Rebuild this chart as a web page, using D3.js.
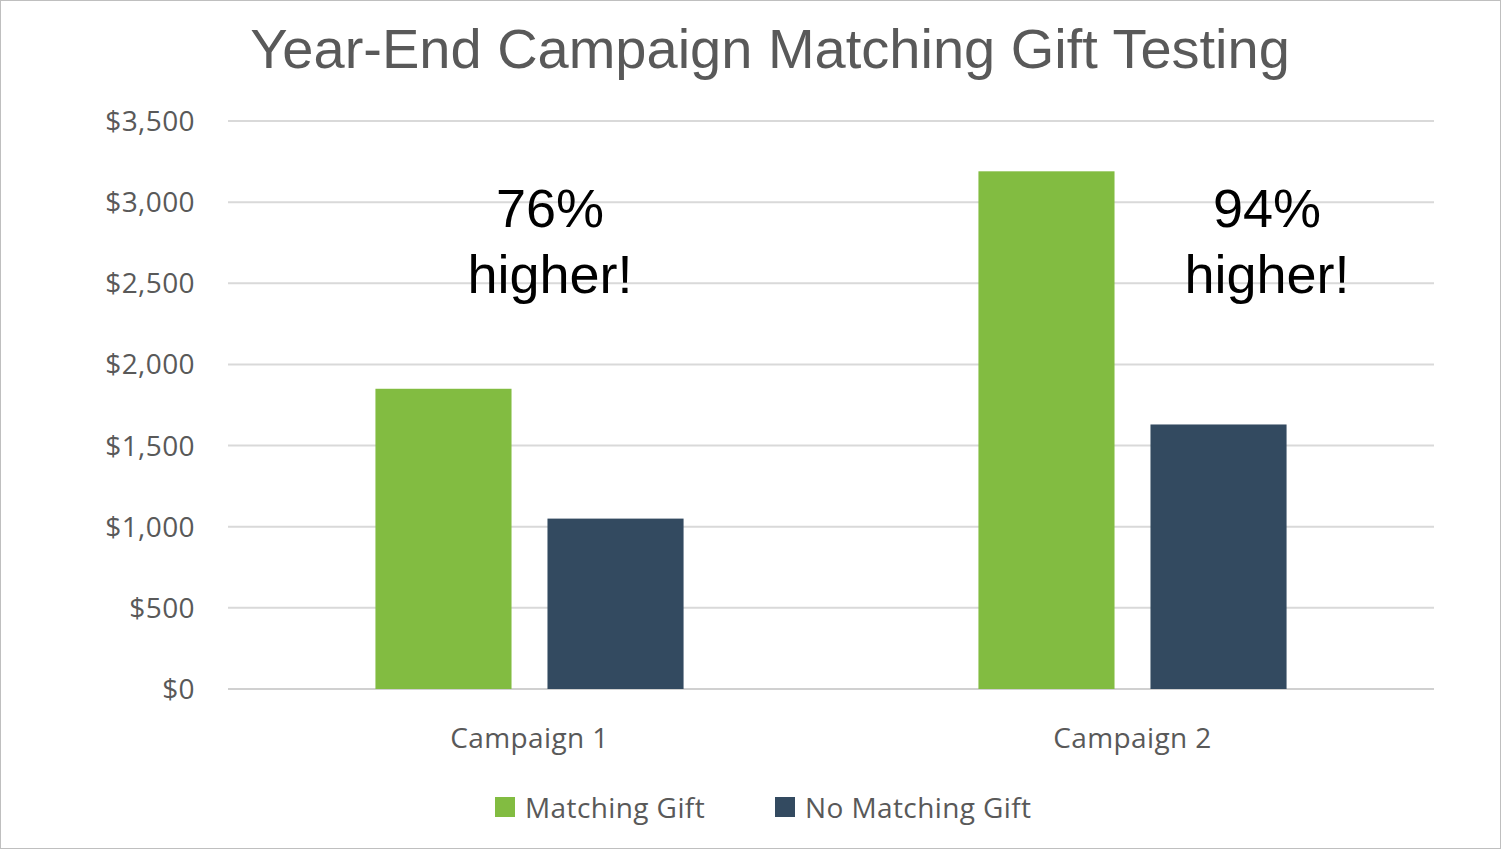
<!DOCTYPE html>
<html><head><meta charset="utf-8">
<script src="https://cdn.jsdelivr.net/npm/d3@7"></script>
<style>body{margin:0;background:#fff}</style></head>
<body><svg id="c" width="1501" height="849"></svg>
<script>
const categories = ["Campaign 1", "Campaign 2"];
const series = ["Matching Gift", "No Matching Gift"];
const matching = [1850, 3190];
const noMatching = [1050, 1630];
const annotations = [["76%", "higher!"], ["94%", "higher!"]];
const yTicks = [0, 500, 1000, 1500, 2000, 2500, 3000, 3500];
const colors = ["#82bc41", "#334a60"];

const svg = d3.select("#c");
svg.append("rect").attr("x",0.5).attr("y",0.5).attr("width",1500).attr("height",848)
  .attr("fill","#fff").attr("stroke","#bfbfbf");
const x = d3.scaleBand().domain(categories).range([228,1434]);
const xs = d3.scaleBand().domain(series).range([0,x.bandwidth()]).paddingInner(0.209).paddingOuter(0.857);
const y = d3.scaleLinear().domain([0,3500]).range([689,121]);
const lab = {"font-family":"Open Sans","font-size":28,"fill":"#595959","letter-spacing":0.4};
const ap=(s,o)=>{for(const k in o)s.attr(k,o[k]);return s;};

svg.append("text").attr("x",770).attr("y",68).attr("text-anchor","middle")
  .attr("font-family","Liberation Sans, Arial").attr("font-size",56).attr("fill","#595959")
  .text("Year-End Campaign Matching Gift Testing");

const g = svg.append("g");
yTicks.forEach(t=>{
  g.append("line").attr("x1",228).attr("x2",1434).attr("y1",y(t)).attr("y2",y(t))
   .attr("stroke",t===0?"#d0d0d0":"#d9d9d9").attr("stroke-width",2);
  ap(g.append("text"),lab).attr("x",195).attr("y",y(t)+10).attr("text-anchor","end")
   .text("$"+d3.format(",")(t));
});
const vals=[matching,noMatching];
categories.forEach((c,i)=>{
  series.forEach((s,j)=>{
    svg.append("rect").attr("x",x(c)+xs(s)).attr("width",xs.bandwidth())
      .attr("y",y(vals[j][i])).attr("height",y(0)-y(vals[j][i])).attr("fill",colors[j]);
  });
  ap(svg.append("text"),lab).attr("x",x(c)+x.bandwidth()/2).attr("y",748).attr("text-anchor","middle").text(c);
});
const annX=[550,1267];
annotations.forEach((a,i)=>{
  a.forEach((l,k)=>svg.append("text").attr("x",annX[i]).attr("y",227+k*66).attr("text-anchor","middle")
    .attr("font-family","Liberation Sans, Arial").attr("font-size",54).attr("fill","#000").text(l));
});
const lx=[495,775];
series.forEach((s,j)=>{
  svg.append("rect").attr("x",lx[j]).attr("y",797).attr("width",20).attr("height",20).attr("fill",colors[j]);
  ap(svg.append("text"),lab).attr("x",lx[j]+30).attr("y",818).text(s);
});
</script></body></html>
